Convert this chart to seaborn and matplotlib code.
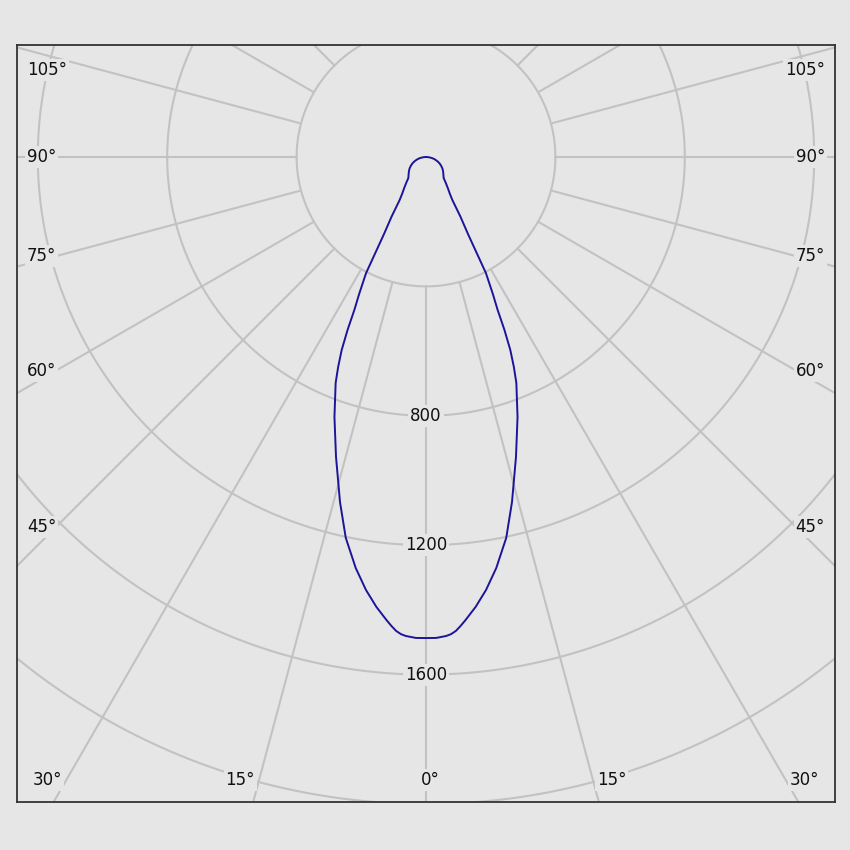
import numpy as np
import pandas as pd
import matplotlib
matplotlib.use("Agg")
import matplotlib.pyplot as plt
import seaborn as sns

# gamma angle from nadir (deg) and luminous intensity (cd)
gamma = [0, 1.2, 2.4, 3.0, 3.6, 4.2, 4.9, 6.3, 7.9, 9.7, 11.9, 14.0, 16.7, 19.4, 21.8, 22.7,
         23.6, 24.4, 25.1, 26, 27.3, 28.6, 30, 31.5, 33, 35, 37.5, 40,
         45, 50, 55, 60, 65, 70, 75, 80, 85, 90]
intensity = [1487, 1487, 1482, 1477, 1468, 1454, 1436, 1399, 1351, 1289, 1203, 1099, 968, 852, 752, 704,
             651, 587, 522, 472, 404, 271, 213, 156, 135, 118, 100, 85,
             76, 69, 62, 54, 46, 37, 28, 19, 9, 0]

ring_values = [400, 800, 1200, 1600, 2000, 2400]
ring_labels = [800, 1200, 1600]
spoke_angles = list(range(0, 360, 15))
angle_labels = [0, 15, 30, 45, 60, 75, 90, 105]

BG = "#e6e6e6"
GRID = "#c2c2c2"
CURVE = "#1c1499"

sns.set_theme(style="white", rc={"figure.facecolor": BG, "axes.facecolor": BG})
plt.rcParams["font.family"] = ["DejaVu Sans"]

# symmetric curve: left half is the mirror of the right half
g = np.array(gamma, dtype=float)
I = np.array(intensity, dtype=float)
g_all = np.concatenate([-g[::-1], g[1:]])
I_all = np.concatenate([I[::-1], I[1:]])
df = pd.DataFrame({
    "x": I_all * np.sin(np.radians(g_all)),
    "y": -I_all * np.cos(np.radians(g_all)),
})

fig = plt.figure(figsize=(8.5, 8.5), dpi=100)
ax = fig.add_axes([17 / 850, 1 - 802 / 850, 818 / 850, 757 / 850])

px = 400 / 129.4  # cd per pixel
ax.set_xlim(-409 * px, 409 * px)
ax.set_ylim(-645 * px, 112 * px)

# polar grid
t = np.linspace(0, 2 * np.pi, 721)
for r in ring_values:
    ax.plot(r * np.sin(t), r * np.cos(t), color=GRID, lw=1.5, zorder=1)
for a in spoke_angles:
    ar = np.radians(a)
    ax.plot([400 * np.sin(ar), 4000 * np.sin(ar)],
            [-400 * np.cos(ar), -4000 * np.cos(ar)], color=GRID, lw=1.5, zorder=1)

sns.lineplot(data=df, x="x", y="y", sort=False, estimator=None,
             color=CURVE, lw=1.4, ax=ax, zorder=4)

box = dict(boxstyle="square,pad=0.12", fc=BG, ec="none")
for v in ring_labels:
    ax.text(0, -v, str(v), ha="center", va="center", fontsize=12,
            color="#111111", bbox=box, zorder=3)

# angle labels along the frame
side_x = 399 * px      # inner edge for side labels
bottom_y = 623 * px    # label row near the bottom
for a in angle_labels:
    ar = np.radians(a)
    for s in ([1] if a == 0 else [-1, 1]):
        hit_side = np.cos(ar) <= 0 or np.tan(ar) * bottom_y > 380 * px
        if hit_side:
            y = -370 * px / np.tan(ar) if a != 90 else 0.0
            if a > 90:
                y -= 12 * px
            x = s * side_x
            ha = "left" if s < 0 else "right"
        else:
            x = s * (bottom_y * np.tan(ar) + 4 * px)
            y = -bottom_y
            ha = "center" if a == 0 else ("right" if s < 0 else "left")
        ax.text(x, y, f"{a}°", ha=ha, va="center", fontsize=12, color="#111111",
                bbox=box, zorder=3)

ax.set_xticks([])
ax.set_yticks([])
ax.set_xlabel("")
ax.set_ylabel("")
for sp in ax.spines.values():
    sp.set_visible(True)
    sp.set_color("#333333")
    sp.set_linewidth(1.3)

fig.savefig("out.png", dpi=100, facecolor=BG)
